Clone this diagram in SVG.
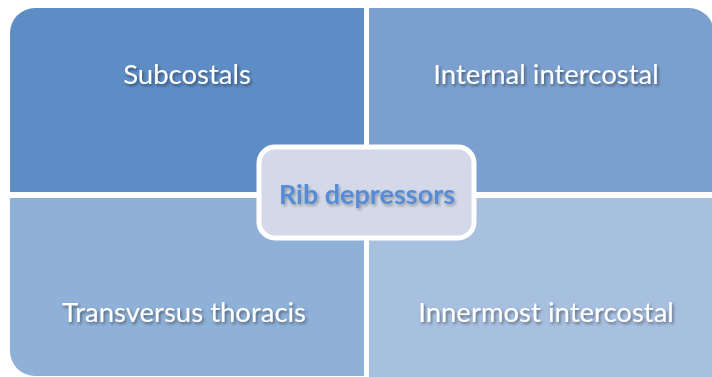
<svg xmlns="http://www.w3.org/2000/svg" width="712" height="377" viewBox="0 0 712 377">
<defs>
<filter id="sh" x="-10%" y="-30%" width="120%" height="160%">
<feDropShadow dx="1.5" dy="2" stdDeviation="1.5" flood-color="#000" flood-opacity="0.45"/>
</filter>
<filter id="sh2" x="-10%" y="-30%" width="120%" height="160%">
<feDropShadow dx="1.5" dy="2" stdDeviation="1.5" flood-color="#000" flood-opacity="0.3"/>
</filter>
</defs>
<style>
.q text{font-family:Lato,"Liberation Sans",sans-serif;font-size:27.5px;fill:#fff;text-anchor:middle;filter:url(#sh)}
.c text{font-family:Lato,"Liberation Sans",sans-serif;font-size:27px;font-weight:bold;fill:#568bd6;text-anchor:middle;filter:url(#sh2)}
</style>
<rect width="712" height="377" fill="#fff"/>
<g id="subcostals" class="q">
<path d="M10,33 A25,25 0 0 1 35,8 H364 V192 H10 Z" fill="#5e8dc6"/>
<text x="187" y="84">Subcostals</text>
</g>
<g id="internal-intercostal" class="q">
<path d="M369,8 H689 A25,25 0 0 1 714,33 V192 H369 Z" fill="#7ba0cf"/>
<text x="546" y="84">Internal intercostal</text>
</g>
<g id="transversus-thoracis" class="q">
<path d="M10,198 H364 V376 H35 A25,25 0 0 1 10,351 Z" fill="#8fb0d7"/>
<text x="184" y="322">Transversus thoracis</text>
</g>
<g id="innermost-intercostal" class="q">
<path d="M369,198 H714 V380 H369 Z" fill="#a8c0e0"/>
<text x="546" y="322">Innermost intercostal</text>
</g>
<g id="connectors"/>
<g id="rib-depressors" class="c">
<rect x="259" y="147" width="215" height="91" rx="16" fill="#d3d9e8" stroke="#fff" stroke-width="5"/>
<text x="367" y="204">Rib depressors</text>
</g>
</svg>
